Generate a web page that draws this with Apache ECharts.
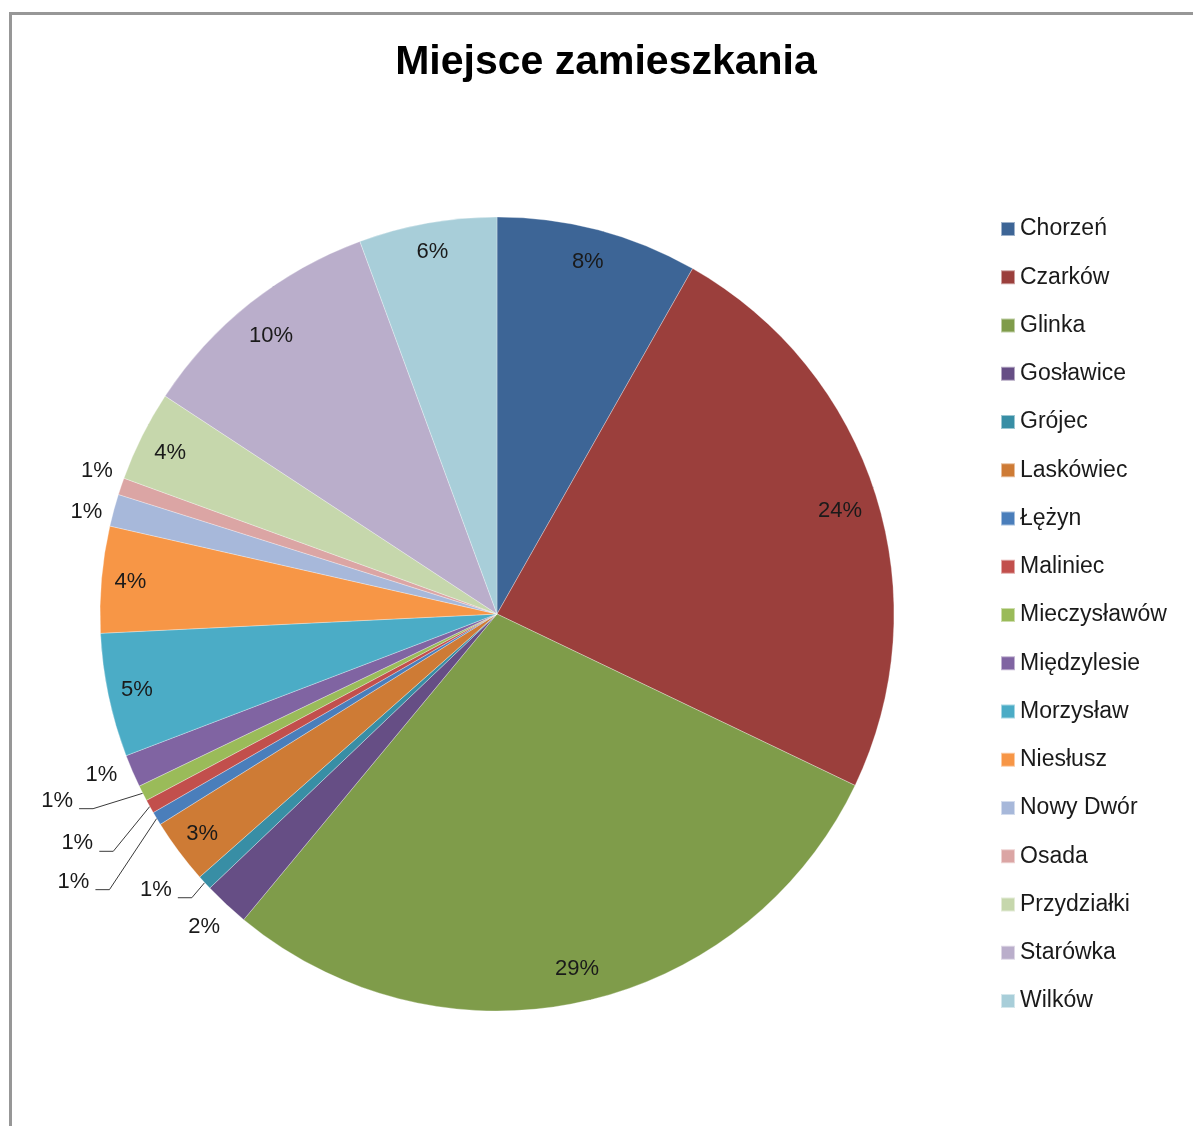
<!DOCTYPE html>
<html lang="pl">
<head>
<meta charset="UTF-8">
<title>Miejsce zamieszkania</title>
<script src="https://cdn.jsdelivr.net/npm/echarts@6/dist/echarts.min.js"></script>
<style>
  html, body { margin: 0; padding: 0; background: #fff; }
  #chart { width: 1193px; height: 1126px; }
</style>
</head>
<body>
<div id="chart"></div>
<script>
// dane (udzial w %)
var names = ['Chorzeń', 'Czarków', 'Glinka', 'Gosławice', 'Grójec', 'Laskówiec', 'Łężyn',
    'Maliniec', 'Mieczysławów', 'Międzylesie', 'Morzysław', 'Niesłusz', 'Nowy Dwór',
    'Osada', 'Przydziałki', 'Starówka', 'Wilków'];
var values = [8.2, 23.9, 28.9, 1.86, 0.6, 2.64, 0.55, 0.56, 0.64, 1.33, 5.03, 4.33, 1.31,
    0.69, 3.69, 10.14, 5.61];

var colors = ['#3D6596', '#9B3F3C', '#7F9C4A', '#664E85', '#388EA5', '#CE7B35', '#4A7EBB',
    '#C24F4C', '#9ABB59', '#8064A2', '#4BACC6', '#F79646', '#A7B8DA', '#DBA5A4',
    '#C6D7AC', '#BAAECB', '#A8CED9'];

// etykiety poza kolem (z linia odniesienia albo bez), przesuniecia [dx, dy]
var withLine = ['Grójec', 'Łężyn', 'Maliniec', 'Mieczysławów'];
var outside = {
    'Gosławice': [21, 14],
    'Grójec': [1, 7],
    'Łężyn': [-32, 65],
    'Maliniec': [-21, 39],
    'Mieczysławów': [-34, 10],
    'Międzylesie': [15, -1],
    'Nowy Dwór': [19, 5],
    'Osada': [22, -12]
};
// drobne poprawki etykiet wewnatrz kola
var inside = {
    'Chorzeń': [-3, 4],
    'Czarków': [-8, 7],
    'Glinka': [1, -4],
    'Starówka': [3, 10],
    'Przydziałki': [2, 4]
};

var chart = echarts.init(document.getElementById('chart'));

var pieData = names.map(function (n, i) {
    return { name: n, value: values[i], itemStyle: { color: colors[i] } };
});

var labelData = names.map(function (n, i) {
    var item = { name: n, value: values[i] };
    if (outside[n]) {
        var line = withLine.indexOf(n) >= 0;
        item.label = { position: 'outside' };
        if (line) item.label.lineHeight = 16;
        item.labelLine = { show: line };
    }
    return item;
});

var option = {
    backgroundColor: '#fff',
    animation: false,
    color: colors,
    title: {
        text: 'Miejsce zamieszkania',
        left: 606,
        top: 42,
        textAlign: 'center',
        padding: 0,
        textStyle: { fontFamily: 'Liberation Sans', fontSize: 41, fontWeight: 'bold', color: '#000' }
    },
    legend: {
        orient: 'vertical',
        left: 1000,
        top: 217,
        padding: 0,
        itemWidth: 14,
        itemHeight: 14,
        itemGap: 24.25,
        icon: 'rect',
        data: names,
        textStyle: { fontFamily: 'Liberation Sans', fontSize: 23, lineHeight: 24, color: '#1a1a1a' }
    },
    graphic: [{
        type: 'rect',
        silent: true,
        shape: { x: 10.5, y: 13.5, width: 1400, height: 1400 },
        style: { fill: 'none', stroke: '#979797', lineWidth: 3 }
    }],
    series: [
        {
            name: 'pie',
            type: 'pie',
            center: [497, 614],
            radius: 397,
            startAngle: 90,
            clockwise: true,
            silent: true,
            label: { show: false },
            labelLine: { show: false },
            itemStyle: { borderColor: 'rgba(255,255,255,0.5)', borderWidth: 0.6 },
            data: pieData
        },
        {
            name: 'labels',
            type: 'pie',
            center: [497, 614],
            radius: [333, 397],
            startAngle: 90,
            clockwise: true,
            silent: true,
            avoidLabelOverlap: false,
            itemStyle: { color: 'rgba(0,0,0,0)' },
            label: {
                show: true,
                position: 'inside',
                fontFamily: 'Liberation Sans',
                fontSize: 22,
                color: '#1a1a1a',
                formatter: function (p) {
                    var t = Math.round(p.percent) + '%';
                    return withLine.indexOf(p.name) >= 0 ? t + ' \n ' : t;
                }
            },
            labelLine: {
                length: 12,
                length2: 14,
                smooth: false,
                lineStyle: { color: '#3a3a3a', width: 1 }
            },
            labelLayout: function (p) {
                var name = names[p.dataIndex];
                var r = p.labelRect;
                var o = outside[name];
                if (o) return { x: r.x + r.width + o[0], y: r.y + r.height / 2 + o[1] };
                var c = inside[name];
                if (c) return { x: r.x + r.width / 2 + c[0], y: r.y + r.height / 2 + c[1] };
                return {};
            },
            data: labelData
        }
    ]
};

chart.setOption(option);
</script>
</body>
</html>
